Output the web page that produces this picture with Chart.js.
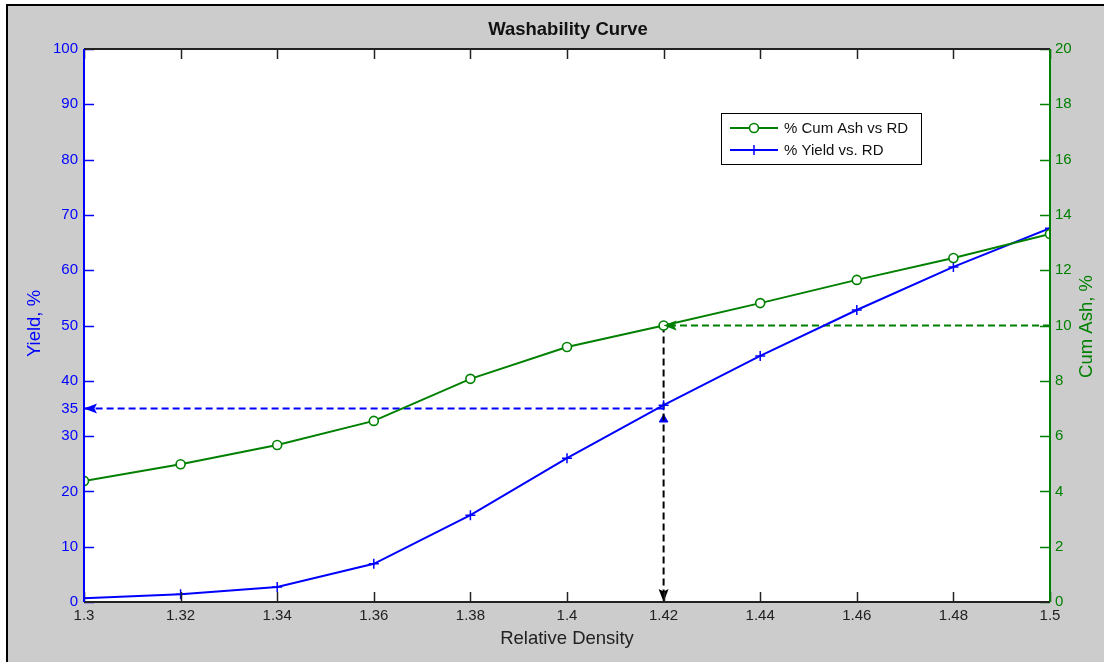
<!DOCTYPE html>
<html><head><meta charset="utf-8">
<script src="https://cdn.jsdelivr.net/npm/chart.js@4/dist/chart.umd.min.js"></script>
<style>html,body{margin:0;padding:0;background:#fff;}canvas{display:block;}</style>
</head><body>
<canvas id="c" width="1104" height="662"></canvas>
<script>
// ---- data ----
const rd = [1.30, 1.32, 1.34, 1.36, 1.38, 1.40, 1.42, 1.44, 1.46, 1.48, 1.50];
const cumAsh = [4.38, 4.98, 5.68, 6.55, 8.07, 9.22, 10.0, 10.81, 11.65, 12.44, 13.31];
const yieldPct = [0.7, 1.4, 2.7, 6.9, 15.7, 26.0, 35.6, 44.5, 52.8, 60.6, 67.6];
const xTicks = [1.3, 1.32, 1.34, 1.36, 1.38, 1.4, 1.42, 1.44, 1.46, 1.48, 1.5];
const yieldTicks = [0, 10, 20, 30, 35, 40, 50, 60, 70, 80, 90, 100];
const ashTicks = [0, 2, 4, 6, 8, 10, 12, 14, 16, 18, 20];
const targetRD = 1.42;
const targetYield = 35;
const targetAsh = 10;
const markYield = 33;
const title = 'Washability Curve';
const xTitle = 'Relative Density';
const yTitle = 'Yield, %';
const y2Title = 'Cum Ash, %';
const ashLabel = '% Cum Ash vs RD';
const yieldLabel = '% Yield vs. RD';

const BLUE = '#0000ff', GREEN = '#008000', BLACK = '#000000';
const FONT = "'Liberation Sans', Arial, sans-serif";

const pts = (xs, ys) => xs.map((x, i) => ({x: x, y: ys[i]}));

const datasets = [
  {label: ashLabel, data: pts(rd, cumAsh), yAxisID: 'y2', borderColor: GREEN, borderWidth: 2,
   pointStyle: 'circle', pointRadius: 4.5, pointBackgroundColor: '#fff', pointBorderColor: GREEN, pointBorderWidth: 1.6, order: 1},
  {label: yieldLabel, data: pts(rd, yieldPct), yAxisID: 'y', borderColor: BLUE, borderWidth: 2,
   pointStyle: 'cross', pointRadius: 5, pointBorderColor: BLUE, pointBorderWidth: 1.5, order: 2},
  {label: 'g1', guide: true, data: [{x: targetRD, y: targetYield}, {x: rd[0], y: targetYield}], yAxisID: 'y',
   borderColor: BLUE, borderWidth: 2, borderDash: [7, 4], pointRadius: 0, arrowColor: BLUE, order: 3},
  {label: 'g2', guide: true, data: [{x: targetRD, y: targetAsh}, {x: targetRD, y: 0}], yAxisID: 'y2',
   borderColor: BLACK, borderWidth: 2, borderDash: [7, 4], pointRadius: 0, arrowColor: BLACK, order: 3},
  {label: 'g3', guide: true, data: [{x: rd[rd.length - 1], y: targetAsh}, {x: targetRD, y: targetAsh}], yAxisID: 'y2',
   borderColor: GREEN, borderWidth: 2, borderDash: [7, 4], pointRadius: 0, arrowColor: GREEN, order: 3},
  {label: 'g4', guide: true, data: [{x: targetRD, y: markYield}], yAxisID: 'y', showLine: false,
   pointStyle: 'triangle', pointRadius: 5, pointBackgroundColor: BLUE, pointBorderColor: BLUE, order: 3}
];

const framePlugin = {
  id: 'frame',
  beforeDraw(chart) {
    const c = chart.ctx, a = chart.chartArea;
    c.save();
    c.fillStyle = '#ffffff'; c.fillRect(0, 0, chart.width, chart.height);
    c.fillStyle = '#cccccc'; c.fillRect(7, 5, chart.width - 7, chart.height - 5);
    c.fillStyle = '#000'; c.fillRect(6, 4, chart.width - 6, 2); c.fillRect(6, 4, 2, chart.height - 4);
    c.fillStyle = '#ffffff'; c.fillRect(a.left, a.top, a.right - a.left, a.bottom - a.top);
    c.restore();
  },
  afterDatasetsDraw(chart) {
    const c = chart.ctx;
    // arrowheads at the end of guide lines
    chart.data.datasets.forEach((ds, i) => {
      if (!ds.guide || !ds.arrowColor) return;
      const m = chart.getDatasetMeta(i).data;
      const p0 = m[m.length - 2], p1 = m[m.length - 1];
      const ang = Math.atan2(p1.y - p0.y, p1.x - p0.x);
      const L = 13, W = 5;
      c.save();
      c.translate(p1.x, p1.y); c.rotate(ang);
      c.fillStyle = ds.arrowColor;
      c.beginPath(); c.moveTo(0, 0); c.lineTo(-L, -W); c.lineTo(-L * 0.8, 0); c.lineTo(-L, W); c.closePath(); c.fill();
      c.restore();
    });
  },
  afterDraw(chart) {
    const c = chart.ctx, a = chart.chartArea, s = chart.scales;
    c.save();
    const TL = 10;
    c.lineWidth = 1.5;
    // x ticks top & bottom
    c.strokeStyle = '#222';
    xTicks.forEach(v => {
      const x = Math.round(s.x.getPixelForValue(v)) + 0.5;
      c.beginPath(); c.moveTo(x, a.bottom); c.lineTo(x, a.bottom - TL); c.stroke();
      c.beginPath(); c.moveTo(x, a.top); c.lineTo(x, a.top + TL); c.stroke();
    });
    c.strokeStyle = BLUE;
    yieldTicks.forEach(v => {
      const y = Math.round(s.y.getPixelForValue(v)) + 0.5;
      c.beginPath(); c.moveTo(a.left, y); c.lineTo(a.left + TL, y); c.stroke();
    });
    c.strokeStyle = GREEN;
    ashTicks.forEach(v => {
      const y = Math.round(s.y2.getPixelForValue(v)) + 0.5;
      c.beginPath(); c.moveTo(a.right, y); c.lineTo(a.right - TL, y); c.stroke();
    });
    // frame
    c.lineWidth = 2;
    c.strokeStyle = '#222';
    c.beginPath(); c.moveTo(a.left, a.top); c.lineTo(a.right, a.top); c.stroke();
    c.beginPath(); c.moveTo(a.left, a.bottom); c.lineTo(a.right, a.bottom); c.stroke();
    c.strokeStyle = BLUE;
    c.beginPath(); c.moveTo(a.left, a.top); c.lineTo(a.left, a.bottom); c.stroke();
    c.strokeStyle = GREEN;
    c.beginPath(); c.moveTo(a.right, a.top); c.lineTo(a.right, a.bottom); c.stroke();

    // titles
    c.textAlign = 'center'; c.textBaseline = 'middle';
    c.fillStyle = '#111'; c.font = 'bold 18.5px ' + FONT;
    c.fillText(title, (a.left + a.right) / 2 + 1, 30);
    c.font = '18.5px ' + FONT; c.fillStyle = '#222';
    c.fillText(xTitle, (a.left + a.right) / 2, 639);
    c.save(); c.translate(35, (a.top + a.bottom) / 2 - 2); c.rotate(-Math.PI / 2);
    c.fillStyle = BLUE; c.fillText(yTitle, 0, 0); c.restore();
    c.save(); c.translate(1087, (a.top + a.bottom) / 2 + 1); c.rotate(-Math.PI / 2);
    c.fillStyle = GREEN; c.fillText(y2Title, 0, 0); c.restore();

    // legend
    const lx = 721, ly = 113, lw = 200, lh = 51;
    c.fillStyle = '#fff'; c.fillRect(lx, ly, lw, lh);
    c.lineWidth = 1; c.strokeStyle = '#000'; c.strokeRect(lx + 0.5, ly + 0.5, lw, lh);
    const rows = [{y: ly + 15, ds: datasets[0]}, {y: ly + 37, ds: datasets[1]}];
    rows.forEach(r => {
      c.strokeStyle = r.ds.borderColor; c.lineWidth = 2;
      c.beginPath(); c.moveTo(lx + 9, r.y); c.lineTo(lx + 57, r.y); c.stroke();
      const mx = lx + 33;
      if (r.ds.pointStyle === 'circle') {
        c.fillStyle = '#fff'; c.lineWidth = 1.6;
        c.beginPath(); c.arc(mx, r.y, 4.5, 0, Math.PI * 2); c.fill(); c.stroke();
      } else {
        c.lineWidth = 1.5;
        c.beginPath(); c.moveTo(mx, r.y - 5); c.lineTo(mx, r.y + 5); c.stroke();
      }
      c.fillStyle = '#111'; c.font = '15px ' + FONT; c.textAlign = 'left';
      c.fillText(r.ds.label, lx + 63, r.y + 1);
    });
    c.restore();
  }
};

const setTicks = arr => scale => { scale.ticks = arr.map(v => ({value: v})); };
const fmt = v => String(Number(v.toFixed(2)));

new Chart(document.getElementById('c'), {
  type: 'line',
  data: {datasets: datasets},
  options: {
    responsive: false, animation: false, devicePixelRatio: 1,
    layout: {padding: {top: 49, left: 0, right: 0, bottom: 0}},
    plugins: {legend: {display: false}, tooltip: {enabled: false}, title: {display: false}},
    elements: {line: {tension: 0, fill: false}},
    scales: {
      x: {type: 'linear', position: 'bottom', min: 1.3, max: 1.5,
          afterBuildTicks: setTicks(xTicks), afterFit: s => { s.height = 60; },
          grid: {display: false, drawTicks: false}, border: {display: false},
          ticks: {color: '#222', font: {size: 15, family: FONT}, padding: 5, autoSkip: false, maxRotation: 0, callback: v => fmt(v)}},
      y: {type: 'linear', position: 'left', min: 0, max: 100,
          afterBuildTicks: setTicks(yieldTicks), afterFit: s => { s.width = 84; },
          grid: {display: false, drawTicks: false}, border: {display: false},
          ticks: {color: BLUE, font: {size: 15, family: FONT}, padding: 6, autoSkip: false, callback: v => fmt(v)}},
      y2: {type: 'linear', position: 'right', min: 0, max: 20,
          afterBuildTicks: setTicks(ashTicks), afterFit: s => { s.width = 54; },
          grid: {display: false, drawTicks: false}, border: {display: false},
          ticks: {color: GREEN, font: {size: 15, family: FONT}, padding: 5, autoSkip: false, callback: v => fmt(v)}}
    }
  },
  plugins: [framePlugin]
});
</script>
</body></html>
